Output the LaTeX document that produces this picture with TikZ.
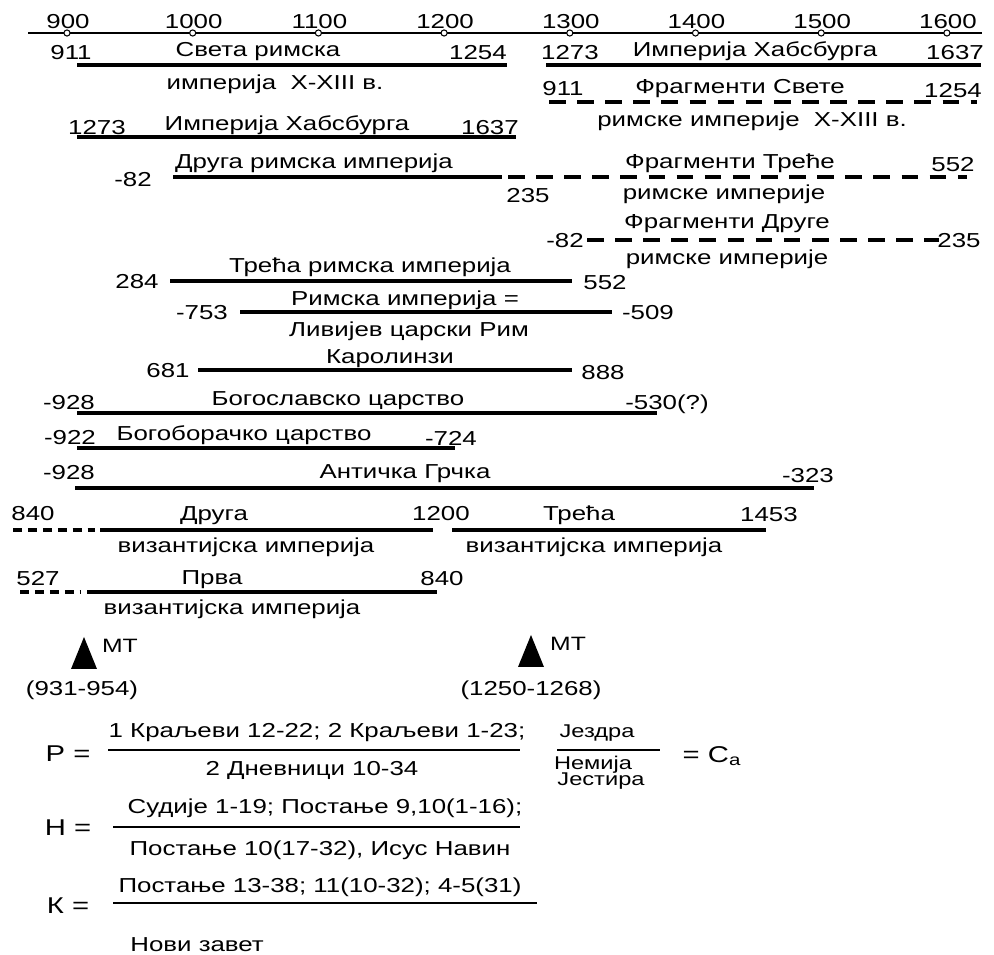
\documentclass[tikz,border=0pt]{standalone}
\usepackage{fontspec}
\setmainfont{Liberation Sans}[FakeStretch=1.28]
\usepackage{tikz}

\begin{document}
\begin{tikzpicture}[x=0.02cm, y=-0.02cm,
  font=\fontsize{11.5}{13}\selectfont,
  lbl/.style={inner sep=0pt, text height=8pt, text depth=0pt},
  small/.style={lbl, font=\fontsize{10.5}{12}\selectfont, text height=7.5pt},
  span/.style={line width=1.8pt},
  frag/.style={line width=1.8pt, dash pattern=on 9.5pt off 6.5pt},
  fragshort/.style={line width=1.8pt, dash pattern=on 5pt off 3.5pt},
  fracbar/.style={line width=1.6pt},
  eqn/.style={lbl, font=\fontsize{13}{15}\selectfont}]
\useasboundingbox (0,0) rectangle (994,955);

% time axis
\draw[line width=0.8pt] (28,33) -- (982,33);
\foreach \yr [count=\i from 0] in {900,1000,...,1600} {
  \node[circle, draw, fill=white, line width=0.6pt, inner sep=0pt, minimum size=3.5pt] (t\yr) at ({67+125.7*\i},33) {};
  \node[lbl] (l\yr) at ({68+125.7*\i},21) {\yr};
}

% Света римска империја
\node[lbl] (hreS) at (71,52) {911};
\node[lbl] (hreT) at (258,49) {Света римска};
\node[lbl] (hreE) at (478,52) {1254};
\node[lbl] (hreU) at (275,82) {империја\ \ X-XIII в.};
\draw[span] (77,65) -- (507,65);

% Хабсбурзи десно
\node[lbl] (habS) at (570,52) {1273};
\node[lbl] (habT) at (755,49) {Империја Хабсбурга};
\node[lbl] (habE) at (955,52) {1637};
\draw[span] (546,65) -- (981,65);

% фрагменти Свете
\node[lbl] (fhS) at (563,88) {911};
\node[lbl] (fhT) at (740,86) {Фрагменти Свете};
\node[lbl] (fhE) at (953,90) {1254};
\node[lbl] (fhU) at (752,119) {римске империје\ \ X-XIII в.};
\draw[frag] (549,102) -- (977,102);

% Хабсбурзи лево
\node[lbl] (hab2S) at (97,127) {1273};
\node[lbl] (hab2T) at (287,123) {Империја Хабсбурга};
\node[lbl] (hab2E) at (490,127) {1637};
\draw[span] (77,137) -- (516,137);

% Друга римска + фрагменти Треће
\node[lbl] (r2S) at (133,179) {-82};
\node[lbl] (r2T) at (314,161) {Друга римска империја};
\node[lbl] (r2E) at (528,195) {235};
\node[lbl] (f3T) at (730,161) {Фрагменти Треће};
\node[lbl] (f3E) at (953,164) {552};
\node[lbl] (f3U) at (724,192) {римске империје};
\draw[span] (173,177) -- (502,177);
\draw[frag] (508,177) -- (967,177);

% фрагменти Друге
\node[lbl] (f2T) at (727,221) {Фрагменти Друге};
\node[lbl] (f2S) at (565,240) {-82};
\node[lbl] (f2E) at (959,240) {235};
\node[lbl] (f2U) at (727,257) {римске империје};
\draw[frag] (587,240) -- (939,240);

% Трећа римска
\node[lbl] (r3T) at (370,265) {Трећа римска империја};
\node[lbl] (r3S) at (137,281) {284};
\node[lbl] (r3E) at (605,282) {552};
\draw[span] (170,281) -- (572,281);

% Ливијев Рим
\node[lbl] (rlT) at (405,298) {Римска империја =};
\node[lbl] (rlS) at (202,312) {-753};
\node[lbl] (rlE) at (648,312) {-509};
\node[lbl] (rlU) at (409,329) {Ливијев царски Рим};
\draw[span] (240,312) -- (612,312);

% Каролинзи
\node[lbl] (karT) at (390,356) {Каролинзи};
\node[lbl] (karS) at (168,370) {681};
\node[lbl] (karE) at (603,372) {888};
\draw[span] (198,370) -- (572,370);

% Богославско
\node[lbl] (bsS) at (69,402) {-928};
\node[lbl] (bsT) at (338,398) {Богославско царство};
\node[lbl] (bsE) at (667,402) {-530(?)};
\draw[span] (77,413) -- (657,413);

% Богоборачко
\node[lbl] (bbS) at (70,437) {-922};
\node[lbl] (bbT) at (244,433) {Богоборачко царство};
\node[lbl] (bbE) at (451,438) {-724};
\draw[span] (77,448) -- (455,448);

% Античка Грчка
\node[lbl] (grS) at (69,472) {-928};
\node[lbl] (grT) at (405,471) {Античка Грчка};
\node[lbl] (grE) at (808,475) {-323};
\draw[span] (75,488) -- (814,488);

% Друга и Трећа византијска
\node[lbl] (b2S) at (33,513) {840};
\node[lbl] (b2T) at (214,513) {Друга};
\node[lbl] (b2E) at (441,513) {1200};
\node[lbl] (b2U) at (246,545) {византијска империја};
\draw[fragshort] (13,530) -- (95,530);
\draw[span] (100,530) -- (433,530);
\node[lbl] (b3T) at (579,513) {Трећа};
\node[lbl] (b3E) at (769,514) {1453};
\node[lbl] (b3U) at (594,545) {византијска империја};
\draw[span] (452,530) -- (766,530);

% Прва византијска
\node[lbl] (b1S) at (38,578) {527};
\node[lbl] (b1T) at (212,577) {Прва};
\node[lbl] (b1E) at (442,578) {840};
\node[lbl] (b1U) at (232,607) {византијска империја};
\draw[fragshort] (20,592) -- (80,592);
\draw[span] (87,592) -- (437,592);

% МТ
\fill (84,637) -- (97,669) -- (71,669) -- cycle;
\node[lbl, font=\fontsize{11}{13}\selectfont] (mt1) at (120,645) {МТ};
\node[lbl] (mt1d) at (82,688) {(931-954)};
\fill (531,635) -- (544,667) -- (518,667) -- cycle;
\node[lbl, font=\fontsize{11}{13}\selectfont] (mt2) at (568,643) {МТ};
\node[lbl] (mt2d) at (531,688) {(1250-1268)};

% формуле
\node[eqn] (pq) at (68,754) {Р =};
\node[lbl] (pn) at (317,730) {1 Краљеви 12-22; 2 Краљеви 1-23;};
\node[lbl] (pd) at (312,768) {2 Дневници 10-34};
\draw[fracbar] (108,750) -- (520,750);
\node[small] (en) at (597,731) {Јездра};
\node[small] (ed1) at (593,763) {Немија};
\node[small] (ed2) at (601,779) {Јестира};
\draw[fracbar] (557,750) -- (660,750);
\node[eqn] (ca) at (712,755) {= С\textsubscript{а}};

\node[eqn] (hq) at (68,828) {Н =};
\node[lbl] (hn) at (325,806) {Судије 1-19; Постање 9,10(1-16);};
\node[lbl] (hd) at (320,848) {Постање 10(17-32), Исус Навин};
\draw[fracbar] (113,827) -- (520,827);

\node[eqn] (kq) at (68,906) {К =};
\node[lbl] (kn) at (320,885) {Постање 13-38; 11(10-32); 4-5(31)};
\draw[fracbar] (113,903) -- (537,903);
\node[lbl, anchor=west] (nz) at (130,944) {Нови завет};
\end{tikzpicture}
\end{document}
